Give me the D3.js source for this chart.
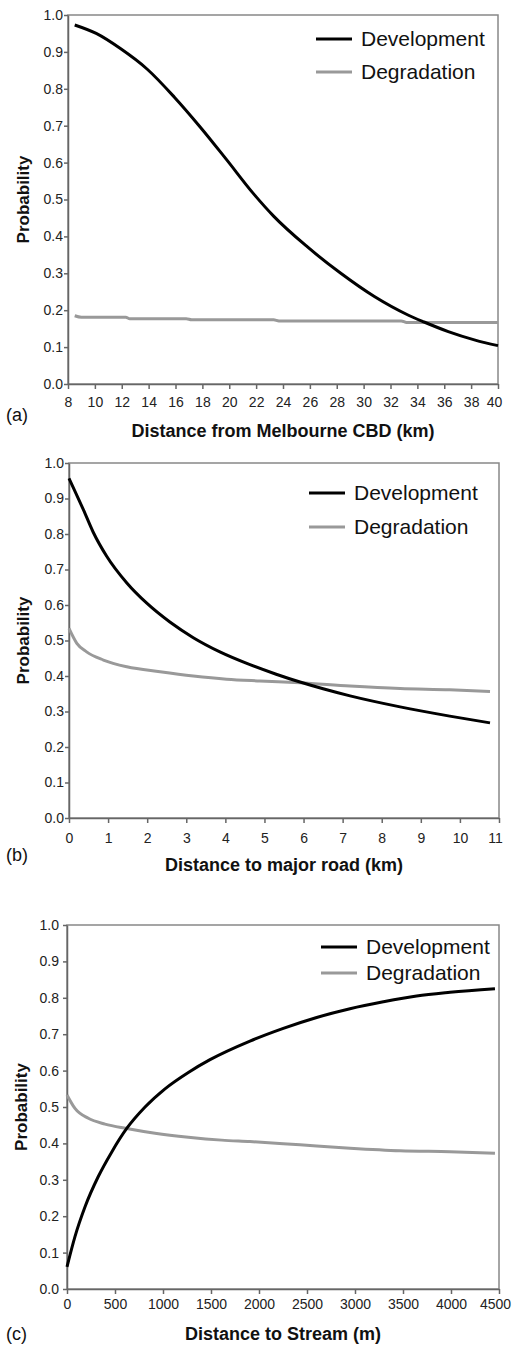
<!DOCTYPE html>
<html>
<head>
<meta charset="utf-8">
<script src="https://cdn.jsdelivr.net/npm/d3@7"></script>
<style>
  body { margin: 0; background: #fff; }
  svg { display: block; font-family: "Liberation Sans", Arial, sans-serif; }
  .tick text { fill: #222; font-size: 14px; }
  .domain, .tick line { stroke: #666; stroke-width: 1.5; }
</style>
</head>
<body>
<svg id="chart" width="513" height="1345"></svg>
<script>
  // (a) distance from Melbourne CBD (km)
  const cbdDevelopment = [
    [8.5, 0.973], [10.1, 0.950], [11.9, 0.909], [13.9, 0.853], [15.9, 0.778],
    [17.85, 0.696], [19.8, 0.608], [21.8, 0.516], [23.3, 0.455], [25.8, 0.372],
    [28.3, 0.300], [30.8, 0.237], [33.3, 0.187], [34.5, 0.168], [36.3, 0.142],
    [38.3, 0.119], [40, 0.104]
  ];
  const cbdDegradation = [
    [8.5, 0.185], [9, 0.181], [12.3, 0.181], [12.6, 0.177], [16.8, 0.177],
    [17.2, 0.174], [23.3, 0.174], [23.7, 0.171], [32.8, 0.171], [33.2, 0.167],
    [40, 0.167]
  ];

  // (b) distance to major road (km)
  const roadDevelopment = [
    [0, 0.957], [0.37, 0.868], [0.62, 0.805], [0.96, 0.738], [1.48, 0.662],
    [1.99, 0.605], [2.58, 0.552], [3.18, 0.508], [3.86, 0.468], [4.63, 0.432],
    [5.3, 0.405], [5.91, 0.383], [6.5, 0.364], [7.19, 0.344], [8.47, 0.313],
    [9.74, 0.287], [10.77, 0.268]
  ];
  const roadDegradation = [
    [0, 0.534], [0.2, 0.492], [0.45, 0.468], [0.88, 0.445], [1.48, 0.426],
    [2.33, 0.412], [3.18, 0.400], [4.03, 0.391], [4.88, 0.386], [5.91, 0.381],
    [7.19, 0.372], [8.47, 0.365], [9.74, 0.361], [10.77, 0.356]
  ];

  // (c) distance to stream (m)
  const streamDevelopment = [
    [0, 0.061], [83, 0.144], [188, 0.226], [326, 0.309], [465, 0.376],
    [622, 0.441], [813, 0.500], [1021, 0.550], [1264, 0.595], [1490, 0.630],
    [1906, 0.681], [2253, 0.716], [2601, 0.746], [2948, 0.770], [3295, 0.789],
    [3642, 0.805], [3990, 0.815], [4458, 0.825]
  ];
  const streamDegradation = [
    [0, 0.533], [83, 0.496], [222, 0.469], [396, 0.453], [622, 0.441],
    [917, 0.428], [1264, 0.417], [1611, 0.409], [1906, 0.405], [2427, 0.396],
    [2948, 0.387], [3469, 0.380], [3990, 0.377], [4458, 0.373]
  ];

  const seriesNames = ['Development', 'Degradation'];
  const yTickValues = d3.range(0, 11).map(i => i / 10);
  const cbdTicks = d3.range(8, 41, 2);
  const roadTicks = d3.range(0, 12);
  const streamTicks = d3.range(0, 4501, 500);

  const colors = { Development: '#000', Degradation: '#999' };

  const panels = [
    {
      label: '(a)', title: 'Distance from Melbourne CBD (km)',
      xDomain: [8, 40], xTicks: cbdTicks,
      series: [cbdDevelopment, cbdDegradation],
      left: 68, right: 498, top: 15, bottom: 384,
      xPad: 8, yPad: 1, titleY: 437, labelY: 421, yLabelX: 29,
      legendX: 316, legendY: [39, 72]
    },
    {
      label: '(b)', title: 'Distance to major road (km)',
      xDomain: [0, 11], xTicks: roadTicks,
      series: [roadDevelopment, roadDegradation],
      left: 69, right: 499, top: 463, bottom: 818,
      xPad: 10, yPad: 1, titleY: 871, labelY: 861, yLabelX: 29,
      legendX: 309, legendY: [493, 527]
    },
    {
      label: '(c)', title: 'Distance to Stream (m)',
      xDomain: [0, 4500], xTicks: streamTicks,
      series: [streamDevelopment, streamDegradation],
      left: 67, right: 499, top: 925, bottom: 1289,
      xPad: 5, yPad: 4, titleY: 1340, labelY: 1340, yLabelX: 27,
      legendX: 321, legendY: [947, 973]
    }
  ];

  const svg = d3.select('#chart');

  panels.forEach(p => {
    const x = d3.scaleLinear().domain(p.xDomain).range([p.left, p.right]);
    const y = d3.scaleLinear().domain([0, 1]).range([p.bottom, p.top]);
    const g = svg.append('g');

    // frame (top and right sides)
    g.append('rect')
      .attr('x', p.left).attr('y', p.top)
      .attr('width', p.right - p.left).attr('height', p.bottom - p.top)
      .attr('fill', 'none').attr('stroke', '#888').attr('stroke-width', 1.5);

    const xAxisG = g.append('g')
      .attr('transform', `translate(0,${p.bottom})`)
      .call(d3.axisBottom(x).tickValues(p.xTicks).tickSizeInner(5).tickSizeOuter(0).tickPadding(p.xPad).tickFormat(d3.format('d')));
    // keep the last label inside the page
    xAxisG.selectAll('.tick:last-of-type text').attr('dx', -4);

    g.append('g')
      .attr('transform', `translate(${p.left},0)`)
      .call(d3.axisLeft(y).tickValues(yTickValues).tickSizeInner(4).tickSizeOuter(0).tickPadding(p.yPad).tickFormat(d3.format('.1f')));

    const line = d3.line()
      .x(d => x(d[0]))
      .y(d => y(d[1]))
      .curve(d3.curveMonotoneX);

    // grey first so the black curve sits on top
    [1, 0].forEach(i => {
      g.append('path')
        .datum(p.series[i])
        .attr('d', line)
        .attr('fill', 'none')
        .attr('stroke', colors[seriesNames[i]])
        .attr('stroke-width', 3)
        .attr('stroke-linejoin', 'round');
    });

    // legend
    seriesNames.forEach((name, i) => {
      const ly = p.legendY[i];
      g.append('line')
        .attr('x1', p.legendX).attr('x2', p.legendX + 36)
        .attr('y1', ly).attr('y2', ly)
        .attr('stroke', colors[name]).attr('stroke-width', 3);
      g.append('text')
        .attr('x', p.legendX + 45).attr('y', ly)
        .attr('dy', '0.35em')
        .attr('font-size', 21)
        .attr('fill', '#111')
        .text(name);
    });

    g.append('text')
      .attr('x', (p.left + p.right) / 2).attr('y', p.titleY)
      .attr('text-anchor', 'middle')
      .attr('font-size', 18).attr('font-weight', 'bold')
      .attr('fill', '#111')
      .text(p.title);

    g.append('text')
      .attr('transform', `translate(${p.yLabelX},${(p.top + p.bottom) / 2}) rotate(-90)`)
      .attr('text-anchor', 'middle')
      .attr('font-size', 17).attr('font-weight', 'bold')
      .attr('fill', '#111')
      .text('Probability');

    g.append('text')
      .attr('x', 6).attr('y', p.labelY)
      .attr('font-size', 18)
      .attr('fill', '#111')
      .text(p.label);
  });
</script>
</body>
</html>
